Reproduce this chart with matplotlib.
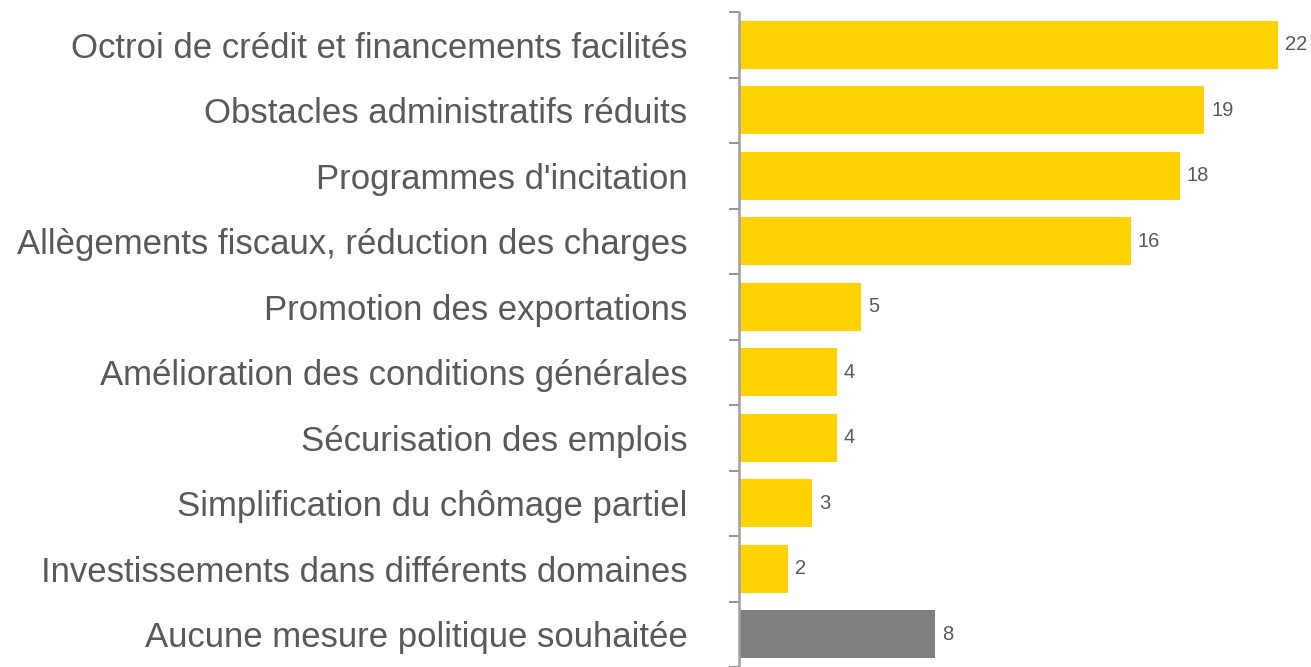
import matplotlib
matplotlib.use("Agg")
import matplotlib.pyplot as plt
import numpy as np

categories = [
    "Octroi de crédit et financements facilités",
    "Obstacles administratifs réduits",
    "Programmes d'incitation",
    "Allègements fiscaux, réduction des charges",
    "Promotion des exportations",
    "Amélioration des conditions générales",
    "Sécurisation des emplois",
    "Simplification du chômage partiel",
    "Investissements dans différents domaines",
    "Aucune mesure politique souhaitée",
]
values = [22, 19, 18, 16, 5, 4, 4, 3, 2, 8]
colors = ["#FFD200"] * 9 + ["#808080"]

plt.rcParams['font.family'] = ['Liberation Sans', 'DejaVu Sans']
text_color = "#595959"

fig = plt.figure(figsize=(13.11, 6.67), dpi=100)
ax = fig.add_axes([739 / 1311, 0.0, 1 - 739 / 1311, 1 - 12 / 667])

y = np.arange(len(categories))
ax.barh(y, values, height=0.73, color=colors)
ax.set_ylim(len(categories) - 0.5, -0.5)
ax.set_xlim(0, 23.35)

ax.set_yticks(y)
ax.set_yticklabels(categories, fontsize=25, color=text_color)
ax.tick_params(axis='y', which='major', length=0, pad=37)
ax.set_yticks(np.arange(-0.5, len(categories), 1), minor=True)
ax.tick_params(axis='y', which='minor', length=7, width=1.2, color="#808080")
ax.set_xticks([])

for s in ['top', 'right', 'bottom']:
    ax.spines[s].set_visible(False)
ax.spines['left'].set_color("#A0A0A0")
ax.spines['left'].set_linewidth(1.8)

for yi, v in zip(y, values):
    ax.text(v + 0.28, yi, str(v), va='center', ha='left', fontsize=14.5, color=text_color)

fig.savefig("out.png", dpi=100)
